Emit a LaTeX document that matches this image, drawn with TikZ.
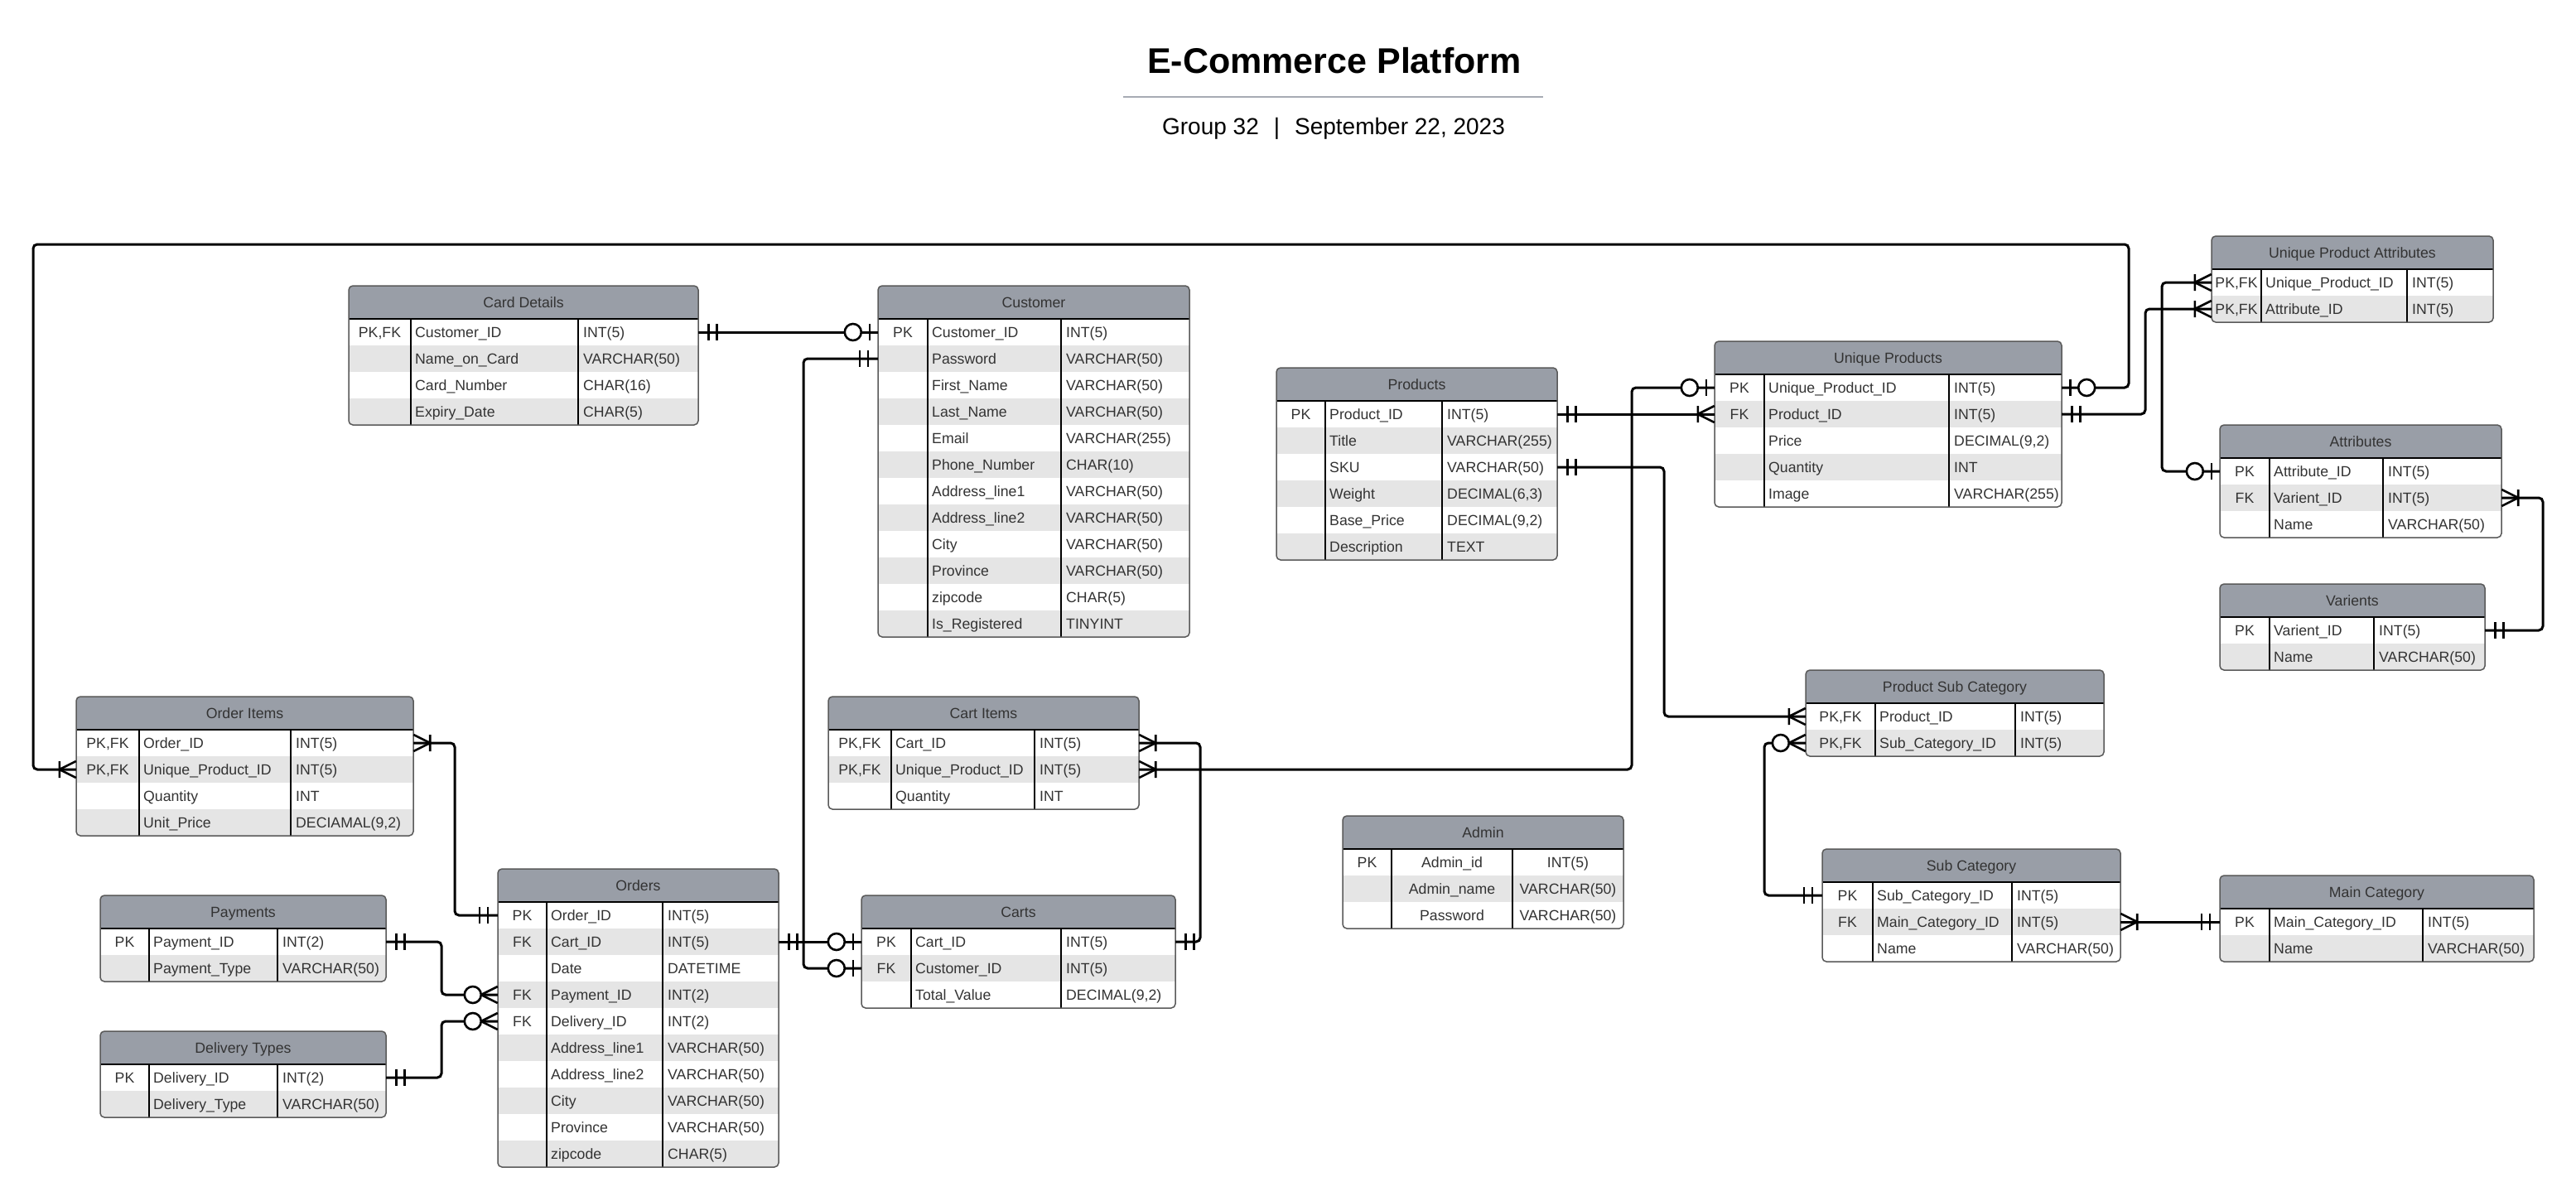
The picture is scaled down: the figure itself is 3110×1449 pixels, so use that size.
\documentclass[tikz,border=0pt]{standalone}
\usepackage{fontspec}
\setmainfont{Liberation Sans}
\usetikzlibrary{calc}
\definecolor{hdrgray}{HTML}{999EA7}
\definecolor{rowgray}{HTML}{E5E5E5}
\definecolor{bordergray}{HTML}{5A5A5A}
\definecolor{txtgray}{HTML}{333333}
\definecolor{rulegray}{HTML}{A7ABB4}
\tikzset{
  conn/.style={line width=3pt, black, rounded corners=5pt},
  markline/.style={line width=2.6pt, black},
  rowbox/.style={inner sep=0pt, minimum height=32pt},
  celltxt/.style={inner sep=0pt, text=txtgray, font=\fontsize{17.7}{20}\selectfont},
  hdrtxt/.style={celltxt, anchor=base},
}
% #1 align (l/c), #2 name, #3 x0, #4 y0, #5 col1, #6 col2, #7 x right, #8 title, #9 rows
\newcommand\ertable[9][l]{%
  \pgfmathsetmacro\tw{#7-#3}%
  \foreach \rk/\rf/\rt [count=\ri] in {#9} {\xdef\nrows{\ri}}%
  \pgfmathsetmacro\yend{#4+40+32*\nrows}%
  \begin{scope}
    \clip[rounded corners=5pt] (#3,#4) rectangle (#7,\yend);
    \fill[white] (#3,#4) rectangle (#7,\yend);
    \foreach \rk/\rf/\rt [count=\ri] in {#9} {%
      \ifodd\ri\else\fill[rowgray] (#3,{#4+40+32*(\ri-1)}) rectangle (#7,{#4+40+32*\ri});\fi}
    \fill[hdrgray] (#3,#4) rectangle (#7,{#4+40});
  \end{scope}
  \draw[line width=1.3pt] (#5,{#4+40}) -- (#5,\yend) (#6,{#4+40}) -- (#6,\yend);
  \draw[line width=2pt] (#3,{#4+40}) -- (#7,{#4+40});
  \draw[bordergray, line width=1.5pt, rounded corners=5pt] (#3,#4) rectangle (#7,\yend);
  \node[hdrtxt] (#2) at ({(#3+#7)/2},{#4+26.3}) {#8};
  \foreach \rk/\rf/\rt [count=\ri] in {#9} {%
    \pgfmathsetmacro\yc{#4+40+32*\ri-16}
    \node[rowbox, minimum width=\tw pt] (#2-\ri) at ({(#3+#7)/2},\yc) {};
    \node[celltxt, anchor=base] (#2-\ri-k) at ({(#3+#5)/2},\yc+6.3) {\rk};
    \if#1c
      \node[celltxt, anchor=base] (#2-\ri-f) at ({(#5+#6)/2},\yc+6.3) {\rf};
      \node[celltxt, anchor=base] (#2-\ri-t) at ({(#6+#7)/2},\yc+6.3) {\rt};
    \else
      \node[celltxt, anchor=base west] (#2-\ri-f) at ({#5+5},\yc+6.3) {\rf};
      \node[celltxt, anchor=base west] (#2-\ri-t) at ({#6+6},\yc+6.3) {\rt};
    \fi
  }%
}
\newcommand\elbow[3]{\draw[conn] (#1) -- (#1 -| #3) -- (#2 -| #3) -- (#2);}
% end marks: #1 anchor, #2 direction (1 = line leaves to the right, -1 = to the left)
\newcommand\mkone[2]{\begin{scope}[shift={(#1)},xscale=#2]
  \draw[markline] (12,-10) -- (12,10) (22,-10) -- (22,10);\end{scope}}
\newcommand\mkzo[2]{\begin{scope}[shift={(#1)},xscale=#2]
  \draw[markline] (10,-10) -- (10,10);
  \draw[markline, fill=white] (30,0) circle[radius=10];\end{scope}}
\newcommand\mkom[2]{\begin{scope}[shift={(#1)},xscale=#2]
  \draw[markline] (20,-10) -- (20,10) (0,-10) -- (20,0) -- (0,10);\end{scope}}
\newcommand\mkzm[2]{\begin{scope}[shift={(#1)},xscale=#2]
  \draw[markline] (0,-10) -- (20,0) -- (0,10);
  \draw[markline, fill=white] (30,0) circle[radius=10];\end{scope}}

\begin{document}
\begin{tikzpicture}[x=1pt, y=-1pt]
\fill[white] (0,0) rectangle (3110,1449);
\useasboundingbox (0,0) rectangle (3110,1449);

% title
\node[font=\bfseries\fontsize{43}{50}\selectfont, anchor=base, inner sep=0pt] (title) at (1611,88.5) {E-Commerce Platform};
\coordinate (ruleL) at (1356,117);
\coordinate (ruleR) at (1863,117);
\draw[rulegray, line width=2.5pt] (ruleL) -- (ruleR);
\node[font=\fontsize{28}{32}\selectfont, anchor=base, inner sep=0pt] (subtitle) at (1610,162.5) {Group 32\hspace{18pt}|\hspace{18pt}September 22, 2023};

% tables
\ertable{carddet}{421}{345}{496}{698}{843}{Card Details}{{PK,FK}/Customer\_ID/INT(5),{}/Name\_on\_Card/VARCHAR(50),{}/Card\_Number/CHAR(16),{}/Expiry\_Date/CHAR(5)}

\ertable{customer}{1060}{345}{1120}{1281}{1436}{Customer}{PK/Customer\_ID/INT(5),{}/Password/VARCHAR(50),{}/First\_Name/VARCHAR(50),{}/Last\_Name/VARCHAR(50),{}/Email/VARCHAR(255),{}/Phone\_Number/CHAR(10),{}/Address\_line1/VARCHAR(50),{}/Address\_line2/VARCHAR(50),{}/City/VARCHAR(50),{}/Province/VARCHAR(50),{}/zipcode/CHAR(5),{}/Is\_Registered/TINYINT}

\ertable{products}{1541}{444}{1600}{1741}{1880}{Products}{PK/Product\_ID/INT(5),{}/Title/VARCHAR(255),{}/SKU/VARCHAR(50),{}/Weight/{DECIMAL(6,3)},{}/Base\_Price/{DECIMAL(9,2)},{}/Description/TEXT}

\ertable{uniqprod}{2070}{412}{2130}{2353}{2489}{Unique Products}{PK/Unique\_Product\_ID/INT(5),FK/Product\_ID/INT(5),{}/Price/{DECIMAL(9,2)},{}/Quantity/INT,{}/Image/VARCHAR(255)}

\ertable{upattr}{2670}{285}{2730}{2906}{3010}{Unique Product Attributes}{{PK,FK}/Unique\_Product\_ID/INT(5),{PK,FK}/Attribute\_ID/INT(5)}

\ertable{attrs}{2680}{513}{2740}{2877}{3020}{Attributes}{PK/Attribute\_ID/INT(5),FK/Varient\_ID/INT(5),{}/Name/VARCHAR(50)}

\ertable{varients}{2680}{705}{2740}{2866}{3000}{Varients}{PK/Varient\_ID/INT(5),{}/Name/VARCHAR(50)}

\ertable{psc}{2180}{809}{2264}{2433}{2540}{Product Sub Category}{{PK,FK}/Product\_ID/INT(5),{PK,FK}/Sub\_Category\_ID/INT(5)}

\ertable{subcat}{2200}{1025}{2261}{2429}{2560}{Sub Category}{PK/Sub\_Category\_ID/INT(5),FK/Main\_Category\_ID/INT(5),{}/Name/VARCHAR(50)}

\ertable{maincat}{2680}{1057}{2740}{2925}{3059}{Main Category}{PK/Main\_Category\_ID/INT(5),{}/Name/VARCHAR(50)}

\ertable[c]{admin}{1621}{985}{1680}{1826}{1960}{Admin}{PK/Admin\_id/INT(5),{}/Admin\_name/VARCHAR(50),{}/Password/VARCHAR(50)}

\ertable{cartitems}{1000}{841}{1076}{1249}{1375}{Cart Items}{{PK,FK}/Cart\_ID/INT(5),{PK,FK}/Unique\_Product\_ID/INT(5),{}/Quantity/INT}

\ertable{carts}{1040}{1081}{1100}{1281}{1419}{Carts}{PK/Cart\_ID/INT(5),FK/Customer\_ID/INT(5),{}/Total\_Value/{DECIMAL(9,2)}}

\ertable{orderitems}{92}{841}{168}{351}{499}{Order Items}{{PK,FK}/Order\_ID/INT(5),{PK,FK}/Unique\_Product\_ID/INT(5),{}/Quantity/INT,{}/Unit\_Price/{DECIAMAL(9,2)}}

\ertable{orders}{601}{1049}{660}{800}{940}{Orders}{PK/Order\_ID/INT(5),FK/Cart\_ID/INT(5),{}/Date/DATETIME,FK/Payment\_ID/INT(2),FK/Delivery\_ID/INT(2),{}/Address\_line1/VARCHAR(50),{}/Address\_line2/VARCHAR(50),{}/City/VARCHAR(50),{}/Province/VARCHAR(50),{}/zipcode/CHAR(5)}

\ertable{payments}{121}{1081}{180}{335}{466}{Payments}{PK/Payment\_ID/INT(2),{}/Payment\_Type/VARCHAR(50)}

\ertable{delivery}{121}{1245}{180}{335}{466}{Delivery Types}{PK/Delivery\_ID/INT(2),{}/Delivery\_Type/VARCHAR(50)}

% routing columns
\coordinate (xb) at (970,0);
\coordinate (xd) at (1449,0);
\coordinate (xe) at (1970,0);
\coordinate (xg) at (2009,0);
\coordinate (xh) at (2130,0);
\coordinate (xk) at (2590,0);
\coordinate (xl) at (2610,0);
\coordinate (xm) at (3070,0);
\coordinate (xn) at (549,0);
\coordinate (xo) at (533,0);
\coordinate (jA) at (2570,295);
\coordinate (jB) at (40,295);

% connectors
\draw[conn] (carddet-1.east) -- (customer-1.west);
\elbow{customer-2.west}{carts-2.west}{xb}
\draw[conn] (orders-2.east) -- (carts-1.west);
\elbow{cartitems-1.east}{carts-1.east}{xd}
\elbow{cartitems-2.east}{uniqprod-1.west}{xe}
\draw[conn] (products-1.east) -- (uniqprod-2.west);
\elbow{products-3.east}{psc-1.west}{xg}
\elbow{psc-2.west}{subcat-1.west}{xh}
\draw[conn] (subcat-2.east) -- (maincat-1.west);
\draw[conn] (uniqprod-1.east) -- (uniqprod-1.east -| jA) -- (jA) -- (jB) -- (orderitems-2.west -| jB) -- (orderitems-2.west);
\elbow{uniqprod-2.east}{upattr-2.west}{xk}
\elbow{attrs-1.west}{upattr-1.west}{xl}
\elbow{attrs-2.east}{varients-1.east}{xm}
\elbow{orderitems-1.east}{orders-1.west}{xn}
\elbow{payments-1.east}{orders-4.west}{xo}
\elbow{delivery-1.east}{orders-5.west}{xo}

% end marks
\mkone{carddet-1.east}{1} \mkzo{customer-1.west}{-1}
\mkone{customer-2.west}{-1} \mkzo{carts-2.west}{-1}
\mkone{orders-2.east}{1} \mkzo{carts-1.west}{-1}
\mkom{cartitems-1.east}{1} \mkone{carts-1.east}{1}
\mkom{cartitems-2.east}{1} \mkzo{uniqprod-1.west}{-1}
\mkone{products-1.east}{1} \mkom{uniqprod-2.west}{-1}
\mkone{products-3.east}{1} \mkom{psc-1.west}{-1}
\mkzm{psc-2.west}{-1} \mkone{subcat-1.west}{-1}
\mkom{subcat-2.east}{1} \mkone{maincat-1.west}{-1}
\mkzo{uniqprod-1.east}{1} \mkom{orderitems-2.west}{-1}
\mkone{uniqprod-2.east}{1} \mkom{upattr-2.west}{-1}
\mkzo{attrs-1.west}{-1} \mkom{upattr-1.west}{-1}
\mkom{attrs-2.east}{1} \mkone{varients-1.east}{1}
\mkom{orderitems-1.east}{1} \mkone{orders-1.west}{-1}
\mkone{payments-1.east}{1} \mkzm{orders-4.west}{-1}
\mkone{delivery-1.east}{1} \mkzm{orders-5.west}{-1}
\end{tikzpicture}
\end{document}
